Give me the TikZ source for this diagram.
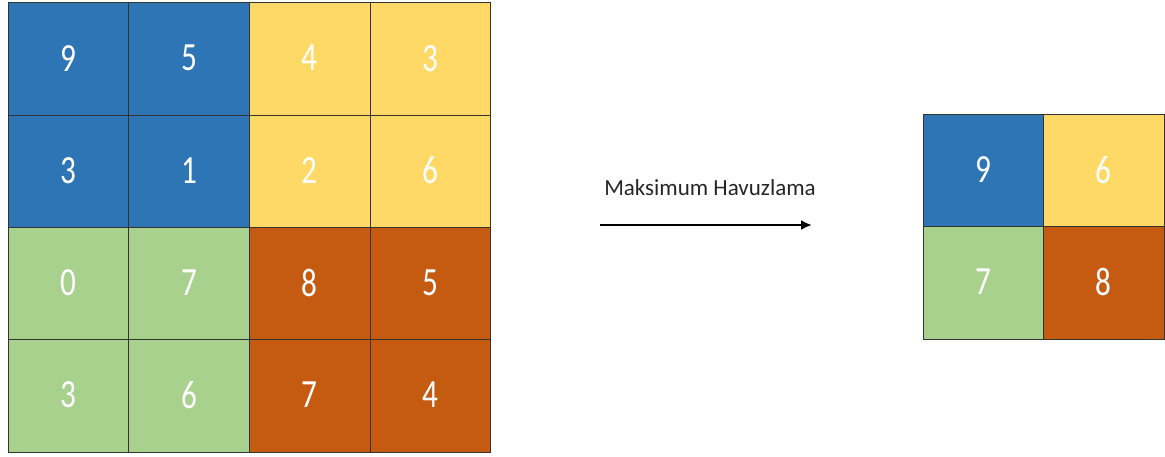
\documentclass[tikz,border=0pt]{standalone}
\usepackage{fontspec}
\setmainfont{Carlito}
\usetikzlibrary{arrows.meta}
\definecolor{cblue}{HTML}{2E75B6}
\definecolor{cyellow}{HTML}{FFD966}
\definecolor{cgreen}{HTML}{A9D18E}
\definecolor{corange}{HTML}{C55A11}
\definecolor{cline}{HTML}{333333}
\tikzset{
  bigcell/.style={draw=cline, line width=1pt, minimum width=120.75pt, minimum height=112.25pt, inner sep=0pt, text=white, font=\fontsize{40}{40}\selectfont},
  smallcell/.style={draw=cline, line width=1pt, minimum width=120.5pt, minimum height=112pt, inner sep=0pt, text=white, font=\fontsize{40}{40}\selectfont},
}
\newcommand{\dg}[1]{\raisebox{2pt}{\scalebox{0.78}[1]{#1}}}
\begin{document}
\begin{tikzpicture}[x=1pt,y=-1pt]
\useasboundingbox (0,0) rectangle (1165,457);
% left grid
\node[bigcell, fill=cblue]   (a11) at (68.4,59.1)  {\dg{9}};
\node[bigcell, fill=cblue]   (a12) at (189.1,59.1) {\dg{5}};
\node[bigcell, fill=cyellow] (a13) at (309.9,59.1) {\dg{4}};
\node[bigcell, fill=cyellow] (a14) at (430.6,59.1) {\dg{3}};
\node[bigcell, fill=cblue]   (a21) at (68.4,171.4)  {\dg{3}};
\node[bigcell, fill=cblue]   (a22) at (189.1,171.4) {\dg{1}};
\node[bigcell, fill=cyellow] (a23) at (309.9,171.4) {\dg{2}};
\node[bigcell, fill=cyellow] (a24) at (430.6,171.4) {\dg{6}};
\node[bigcell, fill=cgreen]  (a31) at (68.4,283.6)  {\dg{0}};
\node[bigcell, fill=cgreen]  (a32) at (189.1,283.6) {\dg{7}};
\node[bigcell, fill=corange] (a33) at (309.9,283.6) {\dg{8}};
\node[bigcell, fill=corange] (a34) at (430.6,283.6) {\dg{5}};
\node[bigcell, fill=cgreen]  (a41) at (68.4,395.9)  {\dg{3}};
\node[bigcell, fill=cgreen]  (a42) at (189.1,395.9) {\dg{6}};
\node[bigcell, fill=corange] (a43) at (309.9,395.9) {\dg{7}};
\node[bigcell, fill=corange] (a44) at (430.6,395.9) {\dg{4}};
% right grid
\node[smallcell, fill=cblue]   (b11) at (983.25,171) {\dg{9}};
\node[smallcell, fill=cyellow] (b12) at (1103.75,171) {\dg{6}};
\node[smallcell, fill=cgreen]  (b21) at (983.25,283) {\dg{7}};
\node[smallcell, fill=corange] (b22) at (1103.75,283) {\dg{8}};
% arrow
\coordinate (s) at (600,225);
\coordinate (e) at (812,225);
\draw[line width=2.2pt, -{Latex[length=11pt,width=10pt]}] (s) -- (e);
\node[font=\fontsize{23}{23}\selectfont, text=black!85] (lbl) at (710,188) {Maksimum Havuzlama};
\end{tikzpicture}
\end{document}
